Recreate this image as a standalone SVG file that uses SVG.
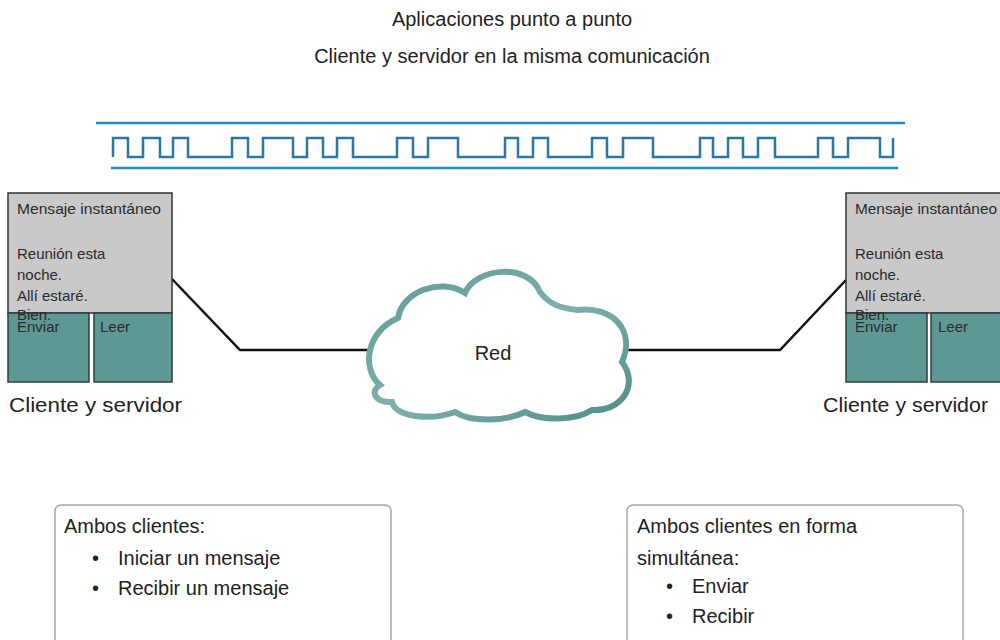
<svg xmlns="http://www.w3.org/2000/svg" width="1000" height="640" viewBox="0 0 1000 640">
<style>
  text { font-family: "Liberation Sans", Arial, sans-serif; fill: #222; }
  .title { font-size: 20px; text-anchor: middle; }
  .big { font-size: 20px; }
  .label { font-size: 21px; }
  .small { font-size: 15px; fill: #2a2a2a; }
  .screen { fill: #c9c9c9; stroke: #333; stroke-width: 1.5; }
  .btn { fill: #5e9894; stroke: #2e3e3e; stroke-width: 1.5; }
  .rail { stroke: #1f8ccc; stroke-width: 2.5; fill: none; }
  .wave { stroke: #2b78a6; stroke-width: 2.5; fill: none; }
  .link { stroke: #111; stroke-width: 2.5; fill: none; }
  .panel { fill: #fff; stroke: #a8a8a8; stroke-width: 1.5; }
</style>
<defs>
  <linearGradient id="cloudStroke" x1="0" y1="0" x2="1" y2="1">
    <stop offset="0" stop-color="#5c9996"/>
    <stop offset="0.5" stop-color="#7fb0ac"/>
    <stop offset="1" stop-color="#4f8d8a"/>
  </linearGradient>
</defs>
<rect width="1000" height="640" fill="#fff"/>

<text class="title" x="512" y="26">Aplicaciones punto a punto</text>
<text class="title" x="512" y="63">Cliente y servidor en la misma comunicación</text>

<g id="signal">
  <line class="rail" x1="96" y1="123" x2="905" y2="123"/>
  <line class="rail" x1="111" y1="168" x2="898" y2="168"/>
  <path class="wave" d="M113,157 V138 H128 V157 H143 V138 H160 V157 H173 V138 H188 V157 H232 V138 H248 V157 H263 V138 H293 V157 H307 V138 H323 V157 H337 V138 H353 V157 H397 V138 H413 V157 H428 V138 H458 V157 H505 V138 H518 V157 H533 V138 H548 V157 H592 V138 H607 V157 H623 V138 H653 V157 H700 V138 H713 V157 H728 V138 H743 V157 H758 V138 H775 V157 H818 V138 H833 V157 H848 V138 H880 V157 H893 V138"/>
</g>

<g id="connectors">
  <polyline class="link" points="172,279 240,350 372,350"/>
  <polyline class="link" points="624,350 780,350 846,280"/>
</g>

<g id="client-left">
  <rect class="screen" x="8" y="193" width="164" height="120"/>
  <rect class="btn" x="8" y="313" width="81" height="69"/>
  <rect class="btn" x="94" y="313" width="78" height="69"/>
  <text class="small" x="17" y="214" textLength="144" lengthAdjust="spacingAndGlyphs">Mensaje instantáneo</text>
  <text class="small" x="17" y="259">Reunión esta</text>
  <text class="small" x="17" y="280">noche.</text>
  <text class="small" x="17" y="301">Allí estaré.</text>
  <text class="small" x="17" y="320">Bien.</text>
  <text class="small" x="17" y="332">Enviar</text>
  <text class="small" x="100" y="332">Leer</text>
  <text class="label" x="9" y="412" textLength="173" lengthAdjust="spacingAndGlyphs">Cliente y servidor</text>
</g>

<g id="client-right">
  <rect class="screen" x="846" y="193" width="164" height="120"/>
  <rect class="btn" x="846" y="313" width="81" height="69"/>
  <rect class="btn" x="931" y="313" width="78" height="69"/>
  <text class="small" x="855" y="214" textLength="142" lengthAdjust="spacingAndGlyphs">Mensaje instantáneo</text>
  <text class="small" x="855" y="259">Reunión esta</text>
  <text class="small" x="855" y="280">noche.</text>
  <text class="small" x="855" y="301">Allí estaré.</text>
  <text class="small" x="855" y="320">Bien.</text>
  <text class="small" x="855" y="332">Enviar</text>
  <text class="small" x="938" y="332">Leer</text>
  <text class="label" x="823" y="412" textLength="165" lengthAdjust="spacingAndGlyphs">Cliente y servidor</text>
</g>

<g id="cloud">
  <path d="M380,385 C362,370 365,332 398,318 C402,292 440,277 465,293 C475,268 528,262 540,292 C550,305 560,308 578,310 C612,306 636,330 622,362 C640,386 620,412 592,410 C575,421 542,421 525,412 C505,422 470,422 455,412 C430,421 396,417 392,402 C376,403 369,392 380,385 Z" fill="#fff" stroke="url(#cloudStroke)" stroke-width="6"/>
  <text class="big" x="493" y="360" text-anchor="middle">Red</text>
</g>

<g id="note-left">
  <rect class="panel" x="55" y="505" width="336" height="150" rx="6"/>
  <text class="big" x="64" y="533">Ambos clientes:</text>
  <text class="big" x="92" y="565">•</text>
  <text class="big" x="118" y="565">Iniciar un mensaje</text>
  <text class="big" x="92" y="595">•</text>
  <text class="big" x="118" y="595">Recibir un mensaje</text>
</g>

<g id="note-right">
  <rect class="panel" x="627" y="505" width="336" height="150" rx="6"/>
  <text class="big" x="637" y="533">Ambos clientes en forma</text>
  <text class="big" x="637" y="565">simultánea:</text>
  <text class="big" x="666" y="593">•</text>
  <text class="big" x="692" y="593">Enviar</text>
  <text class="big" x="666" y="623">•</text>
  <text class="big" x="692" y="623">Recibir</text>
</g>
</svg>
